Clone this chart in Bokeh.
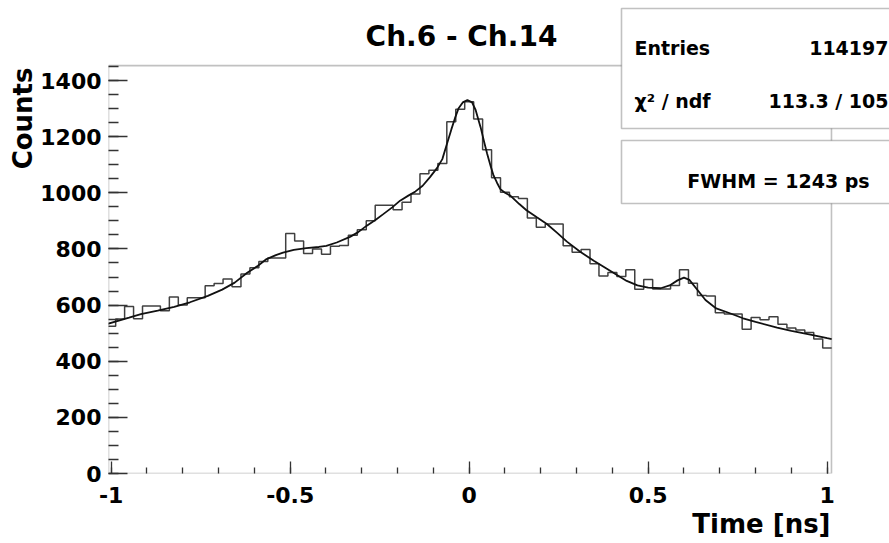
import numpy as np
from bokeh.plotting import figure
from bokeh.models import (Range1d, FixedTicker, CustomJSTickFormatter, Label,
                          BoxAnnotation, Title)
from bokeh.embed import file_html
from bokeh.resources import INLINE

# ---------------- data ----------------
bin_width = 0.025
bin_centers = np.round(np.linspace(-1.0, 1.0, 81), 4)
counts = [525, 550, 595, 551, 597, 597, 580, 629, 600, 626,
          626, 669, 677, 693, 665, 711, 733, 755, 768, 768,
          855, 828, 784, 800, 781, 810, 812, 849, 868, 900,
          956, 956, 940, 966, 996, 1068, 1080, 1104, 1253, 1298,
          1324, 1263, 1153, 1054, 1002, 986, 980, 910, 877, 889,
          889, 811, 788, 798, 747, 704, 716, 702, 726, 656,
          691, 657, 657, 670, 726, 678, 634, 632, 573, 568,
          568, 514, 556, 548, 558, 532, 518, 511, 502, 479,
          447]

fit_x = [-1.0125, -0.95, -0.917, -0.87, -0.824, -0.78, -0.73, -0.69, -0.655,
         -0.62, -0.59, -0.566, -0.54, -0.52, -0.49, -0.455, -0.42, -0.399,
         -0.37, -0.333, -0.31, -0.286, -0.26, -0.24, -0.215, -0.193, -0.17,
         -0.15, -0.13, -0.11, -0.09, -0.075, -0.062, -0.05, -0.04, -0.03,
         -0.018, -0.005, 0.008, 0.018, 0.032, 0.042, 0.05, 0.06, 0.068,
         0.078, 0.087, 0.1, 0.115, 0.14, 0.16, 0.19, 0.217, 0.245, 0.273,
         0.31, 0.348, 0.38, 0.414, 0.44, 0.47, 0.5, 0.535, 0.56, 0.582, 0.6,
         0.615, 0.64, 0.66, 0.69, 0.73, 0.765, 0.8, 0.86, 0.9, 0.953, 1.0,
         1.0125]
fit_y = [532, 555, 568, 580, 594, 610, 633, 655, 680,
         715, 740, 764, 778, 787, 797, 803, 807, 811,
         823, 843, 860, 883, 905, 924, 948, 972, 990,
         1005, 1025, 1055, 1088, 1120, 1175, 1225, 1265, 1300,
         1322, 1330, 1322, 1295, 1233, 1180, 1140, 1095, 1062,
         1035, 1013, 1000, 990, 960, 938, 912, 889, 858, 826,
         790, 758, 733, 706, 686, 670, 662, 660, 670, 688, 698,
         690, 650, 618, 588, 570, 553, 540, 520, 508, 495, 482,
         479]

title_text = "Ch.6 - Ch.14"
x_title = "Time [ns]"
y_title = "Counts"
stats_rows = [("Entries", "114197"), ("\u03c7\u00b2 / ndf", "113.3 / 105")]
fwhm_text = "FWHM = 1243 ps"
x_ticks = [-1, -0.5, 0, 0.5, 1]
y_ticks = [0, 200, 400, 600, 800, 1000, 1200, 1400]

# histogram frame (data limits of the drawn frame)
x_lo, x_hi = -1.0075, 1.012
y_lo, y_hi = 0, 1453

# ---------------- figure ----------------
FONT = "DejaVu Sans"
LC = "#333333"
# the figure's frame is widened to the top/right so that the stats boxes
# and the title (which overlap the histogram frame) are not clipped
p = figure(width=889, height=543, output_backend="svg", toolbar_location=None,
           x_range=Range1d(x_lo, 1.17406), y_range=Range1d(y_lo, 1685.1),
           min_border_left=108, min_border_right=0, min_border_top=0,
           min_border_bottom=70)
p.background_fill_color = "white"
p.border_fill_color = "white"
p.xgrid.visible = False
p.ygrid.visible = False
p.outline_line_color = None

# histogram (ROOT-style outline)
edges = np.concatenate([bin_centers - bin_width / 2, [bin_centers[-1] + bin_width / 2]])
hy = list(counts) + [counts[-1]]
p.step(edges, hy, mode="after", line_color="#404040", line_width=1.5)

# fit
p.line(fit_x, fit_y, line_color="#111111", line_width=1.8)

# histogram frame
p.add_layout(BoxAnnotation(left=x_lo, right=x_hi, bottom=y_lo, top=y_hi,
                           fill_alpha=0.0, line_color=LC, line_width=1.6))

fmt = CustomJSTickFormatter(code="return String(tick)")
for ax, ticks, minors, tin, min_in in (
        (p.xaxis[0], x_ticks, [round(-1 + 0.1 * i, 2) for i in range(21)], 12, 6),
        (p.yaxis[0], y_ticks, [50 * i for i in range(30)], 19, 10)):
    ax.ticker = FixedTicker(ticks=ticks, minor_ticks=minors)
    ax.formatter = fmt
    ax.major_tick_in = tin
    ax.major_tick_out = 0
    ax.minor_tick_in = min_in
    ax.minor_tick_out = 0
    ax.axis_line_color = None
    ax.major_tick_line_color = LC
    ax.minor_tick_line_color = LC
    ax.major_tick_line_width = 1.3
    ax.minor_tick_line_width = 1.3
    ax.major_label_text_font = FONT
    ax.major_label_text_font_style = "bold"
    ax.major_label_text_font_size = "22px"
    ax.major_label_text_color = "black"
p.xaxis.major_label_standoff = 13
p.yaxis.major_label_standoff = 7

# axis titles (ROOT style: right-aligned at the end of the axis)
p.add_layout(Title(text=x_title, align="right", offset=59, standoff=2,
                   text_font=FONT, text_font_style="bold",
                   text_font_size="26px", text_color="black"), "below")
p.add_layout(Title(text=y_title, align="right", offset=67, standoff=0,
                   text_font=FONT, text_font_style="bold",
                   text_font_size="26px", text_color="black"), "left")

def lab(text, x, y, size, align="left", baseline="alphabetic"):
    p.add_layout(Label(x=x, y=y, x_units="screen", y_units="screen", text=text,
                       text_font=FONT, text_font_style="bold",
                       text_font_size=size, text_align=align,
                       text_baseline=baseline, text_color="black"))

# screen units relative to the frame's bottom-left corner
lab(title_text, 353, 437, "28px", align="center", baseline="middle")

# stats boxes
box_kw = dict(left_units="screen", right_units="screen", top_units="screen",
              bottom_units="screen", fill_color="white", fill_alpha=1.0,
              line_color=LC, line_width=1.6)
p.add_layout(BoxAnnotation(left=513, right=800, top=465, bottom=345, **box_kw))
p.add_layout(BoxAnnotation(left=513, right=800, top=333, bottom=270, **box_kw))
row_y = [426, 373]
for (k, v), yy in zip(stats_rows, row_y):
    lab(k, 526, yy, "19px", align="left")
    lab(v, 780, yy, "19px", align="right")
lab(fwhm_text, 670, 293, "19px", align="center")

open("out.html", "w").write(file_html(p, INLINE))
